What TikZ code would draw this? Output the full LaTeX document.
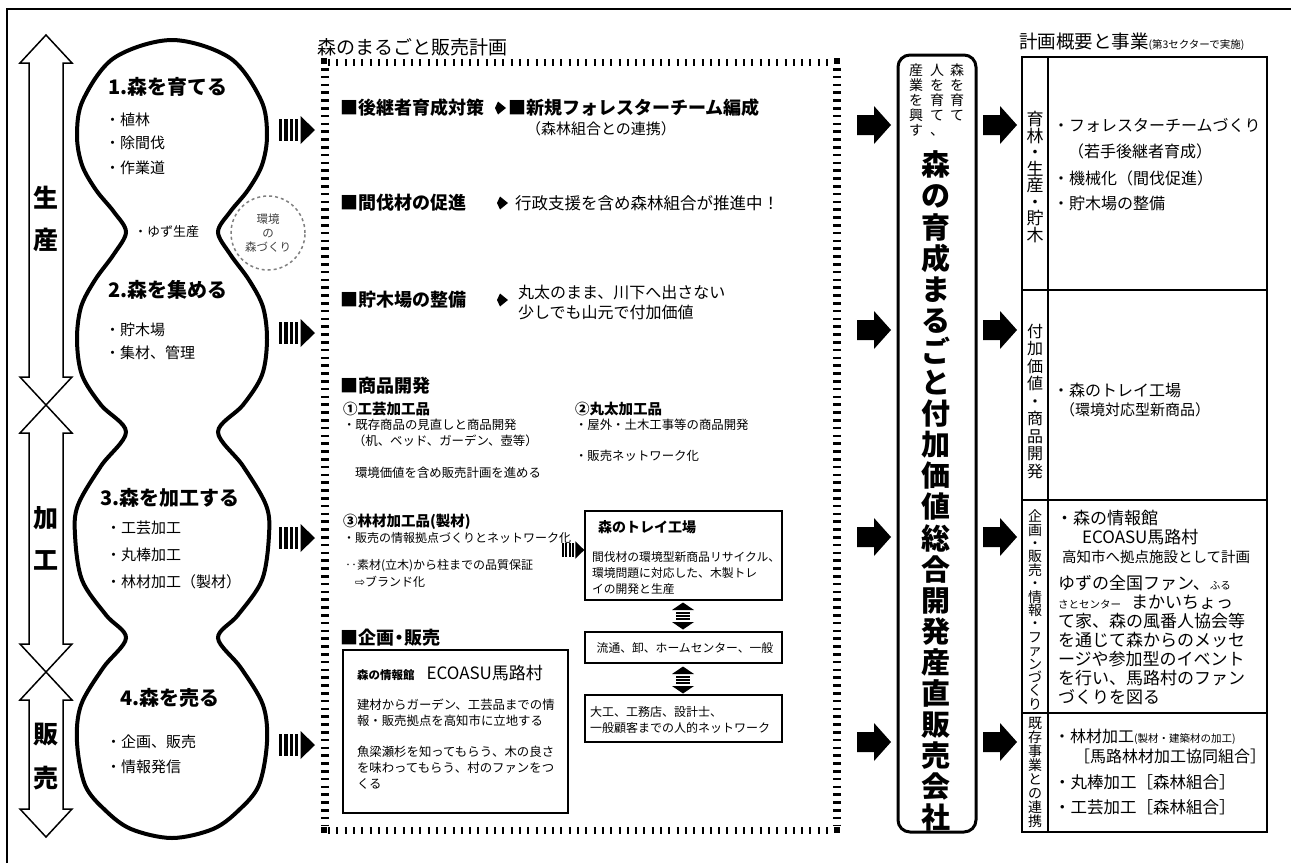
\documentclass[tikz,border=0pt]{standalone}
\usepackage{fontspec}
\setmainfont{Noto Sans CJK JP}
\newfontfamily\dvs{DejaVu Sans}
\newcommand\fsz[2]{\fontsize{#1}{#2}\selectfont}
\tikzset{
  stripearrow/.pic={
    \foreach \i in {0,1,2,3} \fill (\i*5.4,-11) rectangle ++(3.2,22);
    \fill (21.5,-14) -- (36,0) -- (21.5,14) -- cycle;
  },
  bigarrow/.pic={
    \fill (0,-10) -- (17,-10) -- (17,-19) -- (34,0) -- (17,19) -- (17,10) -- (0,10) -- cycle;
  },
  vdbl/.pic={
    \fill (0,-13.5) -- (11,-6) -- (-11,-6) -- cycle;
    \fill (0,13.5) -- (11,6) -- (-11,6) -- cycle;
    \foreach \yy in {-3,0,3} \fill (-7,\yy-0.9) rectangle (7,\yy+0.9);
  },
  mkarrow/.pic={
    \fill (-5,0) -- (-2,-6.5) -- (6,0) -- (-2,6.5) -- cycle;
  }
}
\begin{document}
\begin{tikzpicture}[x=1pt,y=-1pt,
  every node/.style={inner sep=0pt, outer sep=0pt},
  tl/.style={anchor=west, align=left},
  hb/.style={tl, font=\fsz{18}{20}\bfseries},
  blobh/.style={tl, font=\fsz{20}{22}\bfseries},
  blobi/.style={tl, font=\fsz{15}{17}},
  sub/.style={tl, font=\fsz{14.5}{16}\bfseries},
  sm/.style={tl, font=\fsz{12.4}{16}},
  rt/.style={tl, font=\fsz{16}{18}},
  box/.style={draw, line width=1.2},
  vlab/.style={align=center, font=\fsz{25}{27}\bfseries}
]
\useasboundingbox (0,0) rectangle (1291,863);
\fill[white] (0,0) rectangle (1291,863);
% outer frame
\draw[line width=2] (7,863) -- (7,9) -- (1291,9);

% left double arrows
\draw[line width=1.5]
  (46,35) -- (72,63) -- (63,63) -- (63,377) -- (72,377) -- (46,405) -- (20,377) -- (29,377) -- (29,63) -- (20,63) -- cycle;
\draw[line width=1.5]
  (46,405) -- (72,433) -- (63,433) -- (63,644) -- (72,644) -- (46,672) -- (20,644) -- (29,644) -- (29,433) -- (20,433) -- cycle;
\draw[line width=1.5]
  (46,672) -- (72,700) -- (63,700) -- (63,809) -- (72,809) -- (46,837) -- (20,809) -- (29,809) -- (29,700) -- (20,700) -- cycle;
\node[vlab] (sei) at (46,198) {生};
\node[vlab] (san) at (46,240) {産};
\node[vlab] (ka) at (46,518) {加};
\node[vlab] (kou) at (46,560) {工};
\node[vlab] (han) at (46,735) {販};
\node[vlab] (bai) at (46,778) {売};

% gourd
\draw[line width=4] plot[smooth cycle, tension=0.55] coordinates {
 (172,40) (230,58) (261,100) (267,135) (262,165) (248,190) (230,212) (218,232) (230,254) (249,280) (263,307)
 (267,340) (262,375) (243,405) (218,432) (243,466) (266,505) (269,535) (262,580) (238,615) (218,638)
 (241,668) (263,705) (267,742) (259,785) (239,810) (213,829) (172,838)
 (131,829) (105,810) (85,785) (77,742) (81,705) (103,668) (126,638) (106,615) (82,580) (75,535) (78,505)
 (101,466) (126,432) (101,405) (82,375) (77,340) (81,307) (95,280) (114,254) (126,232) (114,212) (96,190)
 (82,165) (77,135) (83,100) (114,58)};

\node[blobh] (h1) at (108,87) {1.森を育てる};
\node[blobi] (i11) at (105,120) {・植林};
\node[blobi] (i12) at (105,143) {・除間伐};
\node[blobi] (i13) at (105,168) {・作業道};
\node[tl, font=\fsz{13}{15}] (yuzu) at (134,232) {・ゆず生産};
\draw[gray, line width=1.5, dash pattern=on 3 off 3] (268,233) circle[radius=37pt];
\node[align=center, font=\fsz{11.5}{14}, text=black!75] (kankyo) at (268,233) {環境\\の\\森づくり};
\node[blobh] (h2) at (108,290) {2.森を集める};
\node[blobi] (i21) at (105,330) {・貯木場};
\node[blobi] (i22) at (105,353) {・集材、管理};
\node[blobh] (h3) at (100,498) {3.森を加工する};
\node[blobi] (i31) at (106,528) {・工芸加工};
\node[blobi] (i32) at (106,555) {・丸棒加工};
\node[blobi] (i33) at (106,582) {・林材加工（製材）};
\node[blobh] (h4) at (120,698) {4.森を売る};
\node[blobi] (i41) at (106,742) {・企画、販売};
\node[blobi] (i42) at (106,767) {・情報発信};

% striped arrows
\pic at (279,130) {stripearrow};
\pic at (279,333) {stripearrow};
\pic at (279,538) {stripearrow};
\pic at (279,745) {stripearrow};

% middle frame
\node[tl, font=\fsz{19}{21}] (mtitle) at (317,47) {森のまるごと販売計画};
\draw[line width=7, dash pattern=on 2 off 6.3] (328,62) -- (834,62);
\draw[line width=7, dash pattern=on 2 off 6.3] (328,830) -- (834,830);
\draw[line width=8, dash pattern=on 2.5 off 5.3] (325,68) -- (325,826);
\draw[line width=8, dash pattern=on 2.5 off 5.3] (837,68) -- (837,826);
\fill (321,58) rectangle (327,64);
\fill (834,58) rectangle (840,64);
\fill (321,827) rectangle (327,833);
\fill (834,827) rectangle (840,833);

\node[hb] (m1) at (340,108) {■後継者育成対策};
\pic at (500,108) {mkarrow};
\node[hb] (m1b) at (508,108) {■新規フォレスターチーム編成};
\node[tl, font=\fsz{15}{17}] (m1c) at (526,129) {（森林組合との連携）};
\node[hb] (m2) at (340,203) {■間伐材の促進};
\pic at (502,203) {mkarrow};
\node[tl, font=\fsz{16.5}{18}] (m2b) at (515,203) {行政支援を含め森林組合が推進中！};
\node[hb] (m3) at (340,300) {■貯木場の整備};
\pic at (502,300) {mkarrow};
\node[tl, font=\fsz{16}{20}] (m3b) at (518,302) {丸太のまま、川下へ出さない\\少しでも山元で付加価値};

\node[hb] (m4) at (340,386) {■商品開発};
\node[sub] (p1) at (343,409) {①工芸加工品};
\node[sm] (p1a) at (343,425) {・既存商品の見直しと商品開発};
\node[sm] (p1b) at (353,441) {（机、ベッド、ガーデン、壺等）};
\node[sm] (p1c) at (355,473) {環境価値を含め販売計画を進める};
\node[sub] (p2) at (575,409) {②丸太加工品};
\node[sm] (p2a) at (575,425) {・屋外・土木工事等の商品開発};
\node[sm] (p2b) at (575,456) {・販売ネットワーク化};
\node[sub] (p3) at (343,522) {③林材加工品(製材)};
\node[tl, font=\fsz{12}{16}] (p3a) at (343,538) {・販売の情報拠点づくりとネットワーク化};
\node[tl, font=\fsz{12}{16}] (p3b) at (345,566) {‥素材(立木)から柱までの品質保証};
\node[tl, font=\fsz{12}{16}] (p3c) at (355,582) {{\dvs ⇨}ブランド化};
\pic[scale=0.62] at (562,550) {stripearrow};

\draw[box] (585,511) rectangle (782,600);
\node[tl, font=\fsz{14}{16}\bfseries] (tray) at (598,527) {森のトレイ工場};
\node[tl, font=\fsz{11.8}{16}] (trayb) at (592,573) {間伐材の環境型新商品リサイクル、\\環境問題に対応した、木製トレ\\イの開発と生産};
\pic at (683,616) {vdbl};
\draw[box] (585,632) rectangle (782,663);
\node[font=\fsz{11.8}{14}] (ryutsu) at (685,648) {流通、卸、ホームセンター、一般};
\pic at (683,680) {vdbl};
\draw[box] (585,695) rectangle (782,742);
\node[tl, font=\fsz{12}{16}] (daiku) at (590,720) {大工、工務店、設計士、\\一般顧客までの人的ネットワーク};

\node[hb] (m5) at (340,638) {■企画\hspace{-4pt}・\hspace{-4pt}販売};
\draw[box] (343,650) rectangle (568,813);
\node[tl] (joho) at (357,673) {{\fsz{11.5}{14}\bfseries 森の情報館}\hspace{12pt}{\fsz{17}{19}ECOASU馬路村}};
\node[tl, font=\fsz{12.4}{16}] (joho1) at (357,713) {建材からガーデン、工芸品までの情\\報・販売拠点を高知市に立地する};
\node[tl, font=\fsz{12.4}{16}] (joho2) at (357,768) {魚梁瀬杉を知ってもらう、木の良さ\\を味わってもらう、村のファンをつ\\くる};

% big arrows
\pic at (857,125) {bigarrow};
\pic at (857,330) {bigarrow};
\pic at (857,537) {bigarrow};
\pic at (857,742) {bigarrow};
\pic at (983,125) {bigarrow};
\pic at (983,330) {bigarrow};
\pic at (983,537) {bigarrow};
\pic at (983,742) {bigarrow};

% center box
\draw[line width=3, rounded corners=12pt] (898,55) rectangle (976,832);
\node[anchor=north, align=center, font=\fsz{14}{15}] (c1) at (957,64) {森\\を\\育\\て};
\node[anchor=north, align=center, font=\fsz{14}{15}] (c2) at (937,64) {人\\を\\育\\て\\\makebox[14pt][r]{、}};
\node[anchor=north, align=center, font=\fsz{14}{15}] (c3) at (916,64) {産\\業\\を\\興\\す};
\node[anchor=north, align=center, font=\fsz{29}{31.1}\bfseries] (cbig) at (936,151)
 {森\\の\\育\\成\\ま\\る\\ご\\と\\付\\加\\価\\値\\総\\合\\開\\発\\産\\直\\販\\売\\会\\社};

% right table
\node[tl] (rtitle) at (1019,42) {{\fsz{18.5}{20}計画概要と事業}{\fsz{10.5}{12}(第3セクターで実施)}};
\draw[line width=1.6] (1022,57) rectangle (1267,832);
\draw[line width=1.6] (1048,57) -- (1048,832);
\draw[line width=1.6] (1022,290) -- (1267,290);
\draw[line width=1.6] (1022,500) -- (1267,500);
\draw[line width=1.6] (1022,713) -- (1267,713);

\node[align=center, font=\fsz{17}{16.5}] (l1) at (1035,177) {育\\林\\・\\生\\産\\・\\貯\\木};
\node[align=center, font=\fsz{16}{17.5}] (l2) at (1035,401) {付\\加\\価\\値\\・\\商\\品\\開\\発};
\node[align=center, font=\fsz{14}{13.4}] (l3) at (1035,610) {企\\画\\・\\販\\売\\・\\情\\報\\・\\フ\\ァ\\ン\\づ\\く\\り};
\node[align=center, font=\fsz{14}{14}] (l4) at (1035,772) {既\\存\\事\\業\\と\\の\\連\\携};

\node[rt] (r11) at (1053,125) {・フォレスターチームづくり};
\node[rt] (r12) at (1068,151) {（若手後継者育成）};
\node[rt] (r13) at (1053,178) {・機械化（間伐促進）};
\node[rt] (r14) at (1053,203) {・貯木場の整備};
\node[rt] (r21) at (1053,390) {・森のトレイ工場};
\node[tl, font=\fsz{15}{17}] (r22) at (1060,410) {（環境対応型新商品）};
\node[tl, font=\fsz{17}{19}] (r31) at (1056,518) {・森の情報館};
\node[tl, font=\fsz{17}{19}] (r32) at (1082,537) {ECOASU馬路村};
\node[tl, font=\fsz{14.5}{16}] (r33) at (1062,557) {高知市へ拠点施設として計画};
\node[tl, font=\fsz{17}{18.9}] (r34) at (1058,640)
 {ゆずの全国ファン、{\fsz{10.5}{12}ふる}\\{\fsz{10.5}{12}さとセンター}\hspace{10pt}まかいちょっ\\て家、森の風番人協会等\\を通じて森からのメッセ\\ージや参加型のイベント\\を行い、馬路村のファン\\づくりを図る};
\node[tl, font=\fsz{16}{18}] (r41) at (1054,737) {・林材加工{\fsz{10.5}{12}(製材・建築材の加工)}};
\node[tl, font=\fsz{16}{18}] (r42) at (1074,756) {［馬路林材加工協同組合］};
\node[tl, font=\fsz{16.5}{18}] (r43) at (1054,782) {・丸棒加工［森林組合］};
\node[tl, font=\fsz{16.5}{18}] (r44) at (1054,807) {・工芸加工［森林組合］};
\end{tikzpicture}
\end{document}
